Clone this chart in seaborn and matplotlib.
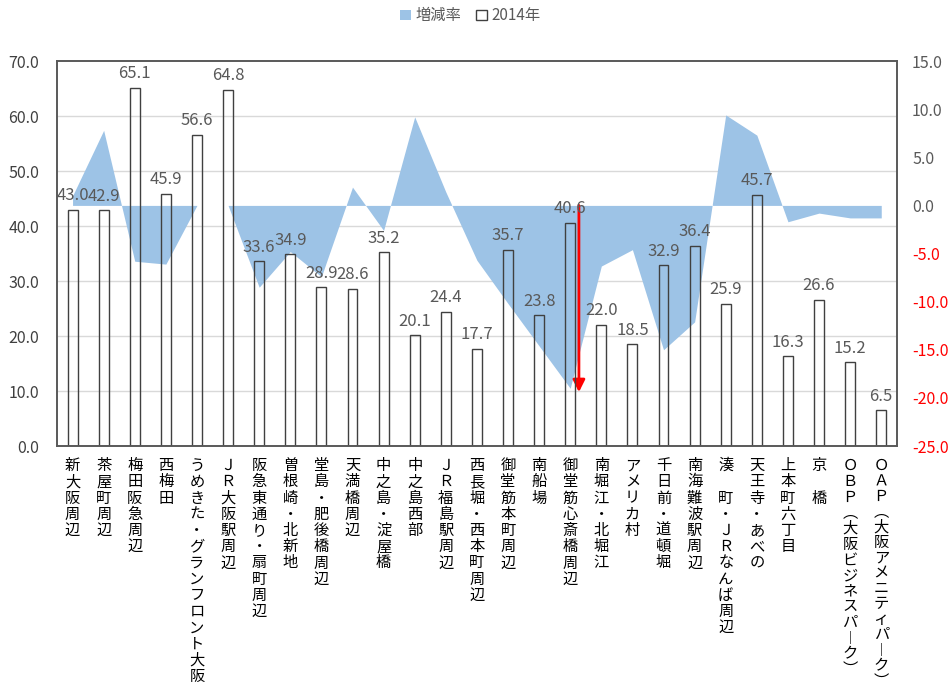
import numpy as np
import pandas as pd
import seaborn as sns
import matplotlib
matplotlib.use("Agg")
import matplotlib.pyplot as plt
from matplotlib.patches import Patch
from matplotlib.transforms import blended_transform_factory

# Office areas in Osaka
areas = [
    "新大阪周辺", "茶屋町周辺", "梅田阪急周辺", "西梅田", "うめきた・グランフロント大阪",
    "ＪＲ大阪駅周辺", "阪急東通り・扇町周辺", "曽根崎・北新地", "堂島・肥後橋周辺", "天満橋周辺",
    "中之島・淀屋橋", "中之島西部", "ＪＲ福島駅周辺", "西長堀・西本町周辺", "御堂筋本町周辺",
    "南船場", "御堂筋心斎橋周辺", "南堀江・北堀江", "アメリカ村", "千日前・道頓堀",
    "南海難波駅周辺", "湊　町・ＪＲなんば周辺", "天王寺・あべの", "上本町六丁目", "京　橋",
    "ＯＢＰ（大阪ビジネスパーク）", "ＯＡＰ（大阪アメニティパーク）",
]

# 2014 values (left axis)
values_2014 = [43.0, 42.9, 65.1, 45.9, 56.6, 64.8, 33.6, 34.9, 28.9, 28.6,
               35.2, 20.1, 24.4, 17.7, 35.7, 23.8, 40.6, 22.0, 18.5, 32.9,
               36.4, 25.9, 45.7, 16.3, 26.6, 15.2, 6.5]

# Rate of change (right axis)
change_rate = [1.0, 7.8, -5.8, -6.1, 0.0, 0.0, -8.5, -4.8, -7.4, 1.9,
               -2.6, 9.2, 1.4, -5.7, -10.2, -14.6, -19.0, -6.3, -4.6, -15.0,
               -12.1, 9.4, 7.3, -1.7, -0.8, -1.3, -1.3]

left_ticks = [0, 10, 20, 30, 40, 50, 60, 70]
right_ticks = [-25, -20, -15, -10, -5, 0, 5, 10, 15]

AREA_BLUE = "#9DC3E6"
EDGE = "#404040"
TEXT_GRAY = "#595959"

sns.set_theme(style="white")
plt.rcParams["font.family"] = ["Noto Sans CJK JP", "DejaVu Sans"]

# Vertical presentation forms for stacked labels
VERTICAL_FORMS = {"（": "︵", "）": "︶", "ー": "︱"}


def stacked(name):
    return "\n".join(VERTICAL_FORMS.get(c, c) for c in name)


df = pd.DataFrame({"area": areas, "v2014": values_2014, "rate": change_rate})

fig = plt.figure(figsize=(9.5, 6.88), dpi=100)
ax1 = fig.add_axes([0.06, 0.3517, 0.884, 0.5596])
ax2 = ax1.twinx()

# Left-axis bars drawn above the rate area
ax1.set_zorder(ax2.get_zorder() + 1)
ax1.patch.set_visible(False)

sns.barplot(data=df, x="area", y="v2014", order=areas, ax=ax1,
            width=0.32, color="white", edgecolor=EDGE, linewidth=1.0,
            errorbar=None)
for p in ax1.patches:
    p.set_facecolor("none")
    p.set_edgecolor(EDGE)

ax1.set_ylim(0, 70)
ax1.set_xlim(-0.5, len(areas) - 0.5)
ax1.set_yticks(left_ticks)
ax1.set_yticklabels([f"{t:.1f}" for t in left_ticks], fontsize=11.5, color=EDGE)
ax1.set_xlabel("")
ax1.set_ylabel("")
ax1.bar_label(ax1.containers[0], fmt="%.1f", padding=4, color=TEXT_GRAY, fontsize=12)

ax1.set_xticks(range(len(areas)))
xlabels = ax1.set_xticklabels([stacked(a) for a in areas], fontsize=11, color="black",
                              va="top", linespacing=0.94)
# Tighter stacking for the two longest names with bracketed parts
xlabels[-2].set_linespacing(0.9)
xlabels[-1].set_linespacing(0.875)
ax1.tick_params(axis="both", length=0)
ax1.tick_params(axis="x", pad=8)
ax1.tick_params(axis="y", pad=13)

# Horizontal grid at the left-axis ticks, kept beneath the area
grid_tf = blended_transform_factory(ax2.transAxes, ax1.transData)
for t in left_ticks[1:-1]:
    ax2.plot([0, 1], [t, t], transform=grid_tf, color="#D9D9D9", lw=1.0, zorder=0)

x = np.arange(len(areas))
ax2.fill_between(x, df["rate"], 0, color=AREA_BLUE, lw=0, zorder=1)
ax2.set_ylim(-25, 15)
ax2.set_yticks(right_ticks)
ax2.set_yticklabels([f"{t:.1f}" for t in right_ticks], fontsize=11.5)
for lbl, t in zip(ax2.get_yticklabels(), right_ticks):
    lbl.set_color("red" if t < 0 else TEXT_GRAY)
ax2.tick_params(axis="y", length=0, pad=11)
ax2.grid(False)
ax1.grid(False)

# Arrow marking the largest drop
i_min = int(np.argmin(change_rate))
ax2.annotate("", xy=(i_min + 0.28, change_rate[i_min] - 0.4), xytext=(i_min + 0.28, 0),
             arrowprops=dict(arrowstyle="-|>", color="red", lw=2,
                             mutation_scale=18, shrinkA=0, shrinkB=0),
             zorder=5)

for ax in (ax1, ax2):
    for s in ax.spines.values():
        s.set_visible(True)
        s.set_color(TEXT_GRAY)
        s.set_linewidth(1.2)

fig.legend(handles=[Patch(facecolor=AREA_BLUE, edgecolor="none", label="増減率"),
                    Patch(facecolor="white", edgecolor=EDGE, label="2014年")],
           loc="center", bbox_to_anchor=(0.495, 0.977), ncol=2, frameon=False,
           fontsize=11, handlelength=0.7, handleheight=0.7, handletextpad=0.3,
           columnspacing=1.0, labelcolor=TEXT_GRAY)

fig.savefig("out.png", dpi=100)
